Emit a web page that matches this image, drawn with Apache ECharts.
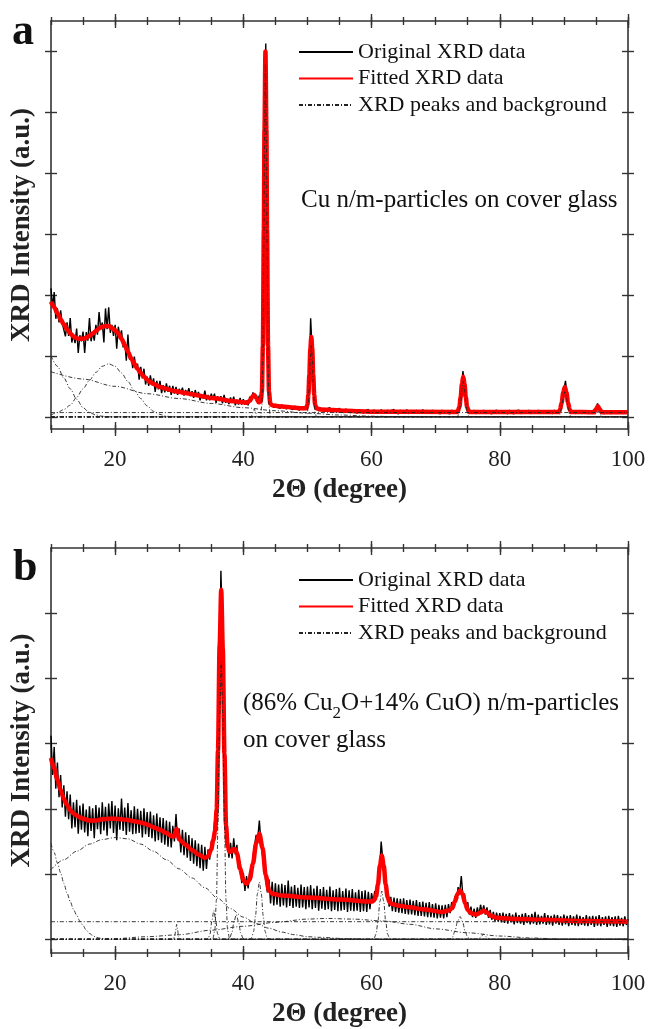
<!DOCTYPE html>
<html>
<head>
<meta charset="utf-8">
<script src="https://cdn.jsdelivr.net/npm/echarts@6/dist/echarts.min.js"></script>
<style>
  html, body { margin: 0; padding: 0; background: #fff; }
  #chart { width: 649px; height: 1029px; }
</style>
</head>
<body>
<div id="chart"></div>
<script>
// ---------- scan grid of the measured patterns (2θ in degrees) ----------
const scanStart = 10;
const scanStep = 0.25;

// ---------- axis ticks ----------
const xMajorTicks = [20, 40, 60, 80, 100];
const yTicksA = [0, 1, 2, 3, 4, 5, 6];
const yTicksB = [0, 1, 2, 3, 4, 5];

// ---------- (a) Cu particles: measured intensity, one row per degree ----------
const rawA = [
  2.11, 1.80, 2.05, 1.61,  1.78, 1.55, 1.75, 1.54,  1.57, 1.32, 1.55, 1.33,  1.62, 1.22, 1.35, 1.21,
  1.45, 1.05, 1.34, 1.24,  1.40, 1.05, 1.39, 1.25,  1.62, 1.24, 1.39, 1.25,  1.51, 1.35, 1.72, 1.44,
  1.55, 1.22, 1.78, 1.44,  1.80, 1.38, 1.51, 1.33,  1.51, 1.12, 1.48, 1.31,  1.42, 1.14, 1.24, 0.92,
  1.35, 0.94, 0.99, 0.80,  0.99, 0.79, 0.87, 0.61,  0.82, 0.63, 0.79, 0.53,  0.66, 0.51, 0.68, 0.52,
  0.63, 0.41, 0.59, 0.45,  0.59, 0.39, 0.52, 0.40,  0.55, 0.41, 0.51, 0.36,  0.51, 0.38, 0.49, 0.36,
  0.46, 0.39, 0.48, 0.35,  0.44, 0.38, 0.47, 0.34,  0.42, 0.31, 0.44, 0.33,  0.41, 0.27, 0.37, 0.30,
  0.43, 0.27, 0.36, 0.27,  0.38, 0.29, 0.38, 0.23,  0.34, 0.26, 0.34, 0.22,  0.36, 0.23, 0.29, 0.21,
  0.32, 0.23, 0.33, 0.19,  0.28, 0.20, 0.31, 0.20,  0.29, 0.20, 0.27, 0.19,  0.33, 0.28, 0.40, 0.32,
  0.36, 0.28, 0.35, 0.29,  0.85, 4.00, 6.13, 2.30,  0.40, 0.22, 0.20, 0.15,  0.21, 0.16, 0.19, 0.14,
  0.20, 0.15, 0.18, 0.13,  0.19, 0.14, 0.17, 0.12,  0.18, 0.13, 0.16, 0.11,  0.17, 0.12, 0.15, 0.13,
  0.22, 0.60, 1.62, 1.05,  0.35, 0.16, 0.14, 0.10,  0.15, 0.11, 0.14, 0.09,  0.13, 0.10, 0.15, 0.09,
  0.13, 0.08, 0.12, 0.10,  0.14, 0.08, 0.11, 0.07,  0.13, 0.09, 0.11, 0.07,  0.12, 0.08, 0.10, 0.06,
  0.12, 0.08, 0.11, 0.06,  0.10, 0.07, 0.12, 0.06,  0.10, 0.07, 0.11, 0.06,  0.10, 0.05, 0.12, 0.07,
  0.09, 0.06, 0.11, 0.05,  0.10, 0.07, 0.12, 0.06,  0.09, 0.05, 0.11, 0.07,  0.10, 0.06, 0.12, 0.05,
  0.09, 0.07, 0.10, 0.05,  0.11, 0.06, 0.09, 0.07,  0.12, 0.05, 0.10, 0.06,  0.09, 0.07, 0.11, 0.05,
  0.10, 0.06, 0.09, 0.05,  0.11, 0.07, 0.10, 0.06,  0.09, 0.05, 0.11, 0.06,  0.10, 0.07, 0.10, 0.19,
  0.43, 0.75, 0.54, 0.27,  0.12, 0.09, 0.10, 0.06,  0.11, 0.05, 0.09, 0.07,  0.10, 0.05, 0.11, 0.06,
  0.09, 0.07, 0.10, 0.05,  0.09, 0.06, 0.11, 0.05,  0.10, 0.06, 0.09, 0.07,  0.10, 0.05, 0.11, 0.06,
  0.09, 0.05, 0.10, 0.07,  0.11, 0.05, 0.09, 0.06,  0.10, 0.06, 0.11, 0.05,  0.09, 0.07, 0.10, 0.05,
  0.11, 0.06, 0.09, 0.06,  0.10, 0.05, 0.10, 0.07,  0.09, 0.05, 0.11, 0.06,  0.09, 0.10, 0.15, 0.29,
  0.45, 0.59, 0.33, 0.17,  0.10, 0.07, 0.10, 0.05,  0.09, 0.06, 0.10, 0.05,  0.09, 0.07, 0.10, 0.05,
  0.09, 0.06, 0.10, 0.07,  0.13, 0.22, 0.16, 0.09,  0.10, 0.05, 0.09, 0.06,  0.10, 0.05, 0.09, 0.06,
  0.10, 0.05, 0.09, 0.07,  0.10, 0.05, 0.09, 0.06,  0.09
];

// (a) fitted profile
const fitA = [
  [10, 1.89], [10.5, 1.80], [11, 1.70], [11.5, 1.60], [12, 1.52], [12.5, 1.44], [13, 1.37], [13.5, 1.32],
  [14, 1.29], [14.5, 1.28], [15, 1.28], [15.5, 1.30], [16, 1.33], [16.5, 1.37], [17, 1.41], [17.5, 1.45],
  [18, 1.48], [18.5, 1.49], [19, 1.49], [19.5, 1.46], [20, 1.42], [20.5, 1.37], [21, 1.28], [21.5, 1.18],
  [22, 1.07], [22.5, 0.96], [23, 0.87], [23.5, 0.79], [24, 0.72], [24.5, 0.66], [25, 0.61], [25.5, 0.57],
  [26, 0.54], [27, 0.49], [28, 0.46], [29, 0.43], [30, 0.41], [31, 0.39], [32, 0.37], [33, 0.35],
  [34, 0.33], [35, 0.31], [36, 0.30], [37, 0.28], [38, 0.26], [39, 0.25], [40, 0.24], [40.5, 0.23],
  [41, 0.26], [41.4, 0.33], [41.7, 0.36], [42, 0.31], [42.4, 0.24], [42.7, 0.25], [42.9, 0.41],
  [43.05, 1.17], [43.2, 3.07], [43.3, 4.72], [43.45, 6.0], [43.6, 4.72], [43.7, 3.07], [43.85, 1.17],
  [44.0, 0.41], [44.2, 0.22], [44.5, 0.19], [45, 0.18], [46, 0.17], [47, 0.16], [48, 0.15], [49, 0.14],
  [49.8, 0.14], [50.0, 0.20], [50.15, 0.36], [50.3, 0.70], [50.45, 1.11], [50.6, 1.31], [50.75, 1.11],
  [50.9, 0.70], [51.05, 0.36], [51.2, 0.20], [51.4, 0.14], [52, 0.12], [54, 0.11], [56, 0.10], [58, 0.09],
  [60, 0.085], [73.4, 0.08], [73.7, 0.16], [73.9, 0.32], [74.1, 0.54], [74.3, 0.66], [74.5, 0.54],
  [74.7, 0.32], [74.9, 0.16], [75.2, 0.08], [89.2, 0.08], [89.4, 0.12], [89.65, 0.23], [89.9, 0.40],
  [90.15, 0.49], [90.4, 0.40], [90.65, 0.23], [90.9, 0.12], [91.1, 0.08], [94.7, 0.075], [95.0, 0.125],
  [95.3, 0.175], [95.6, 0.125], [95.9, 0.075], [100, 0.075]
];

// (a) background terms
const lowAngleA = [[10, 1.0], [11, 0.83], [12, 0.64], [13, 0.46], [14, 0.29], [15, 0.15], [16, 0.07], [17, 0.03], [18, 0.01], [19, 0], [100, 0]];
const glassHumpA = [[10, 0.03], [11, 0.07], [12, 0.12], [13, 0.19], [14, 0.32], [15, 0.46], [16, 0.6], [17, 0.73], [18, 0.83], [19, 0.87], [20, 0.83], [21, 0.72], [22, 0.58], [23, 0.43], [24, 0.3], [25, 0.18], [26, 0.09], [27, 0.04], [28, 0.01], [29, 0], [100, 0]];
const slopeA = [[10, 0.74], [15, 0.62], [20, 0.5], [25, 0.38], [30, 0.3], [35, 0.22], [40, 0.15], [45, 0.1], [50, 0.06], [55, 0.03], [60, 0.01], [65, 0], [100, 0]];
const flatA = [[10, 0.07], [100, 0.07]];

// (a) Bragg peaks
const peakA417 = [[10, 0], [41.2, 0], [41.5, 0.07], [41.7, 0.13], [41.9, 0.07], [42.2, 0], [100, 0]];
const peakA434 = [[10, 0], [42.7, 0], [42.9, 0.19], [43.05, 0.95], [43.2, 2.85], [43.3, 4.5], [43.45, 5.8], [43.6, 4.5], [43.7, 2.85], [43.85, 0.95], [44.0, 0.19], [44.2, 0], [100, 0]];
const peakA506 = [[10, 0], [49.8, 0], [50.0, 0.07], [50.15, 0.23], [50.3, 0.57], [50.45, 0.98], [50.6, 1.17], [50.75, 0.98], [50.9, 0.57], [51.05, 0.23], [51.2, 0.07], [51.4, 0], [100, 0]];
const peakA743 = [[10, 0], [73.4, 0], [73.7, 0.08], [73.9, 0.24], [74.1, 0.46], [74.3, 0.58], [74.5, 0.46], [74.7, 0.24], [74.9, 0.08], [75.2, 0], [100, 0]];
const peakA901 = [[10, 0], [89.2, 0], [89.4, 0.04], [89.65, 0.15], [89.9, 0.32], [90.15, 0.41], [90.4, 0.32], [90.65, 0.15], [90.9, 0.04], [91.1, 0], [100, 0]];
const peakA953 = [[10, 0], [94.7, 0], [95.0, 0.05], [95.3, 0.1], [95.6, 0.05], [95.9, 0], [100, 0]];

// ---------- (b) Cu2O/CuO particles: measured intensity, one row per degree ----------
const rawB = [
  3.12, 2.52, 2.95, 2.31,  2.71, 2.18, 2.52, 2.02,  2.36, 1.88, 2.27, 1.84,  2.22, 1.70, 2.10, 1.72,
  2.14, 1.62, 2.05, 1.68,  2.08, 1.64, 1.99, 1.58,  2.04, 1.66, 2.01, 1.55,  2.06, 1.69, 2.02, 1.61,
  2.10, 1.67, 2.03, 1.59,  2.08, 1.70, 2.12, 1.63,  2.05, 1.52, 2.01, 1.68,  2.16, 1.66, 2.02, 1.60,
  2.09, 1.65, 1.98, 1.61,  2.04, 1.62, 2.00, 1.63,  1.97, 1.56, 2.01, 1.61,  1.95, 1.57, 1.96, 1.55,
  1.90, 1.50, 1.93, 1.52,  1.87, 1.48, 1.86, 1.45,  1.82, 1.42, 1.80, 1.41,  1.74, 1.50, 1.92, 1.52,
  1.70, 1.33, 1.68, 1.29,  1.64, 1.25, 1.60, 1.20,  1.55, 1.16, 1.52, 1.12,  1.47, 1.09, 1.45, 1.05,
  1.42, 1.08, 1.38, 1.22,  1.50, 1.45, 1.80, 1.85,  2.70, 3.80, 5.65, 4.75,  3.15, 1.85, 1.56, 1.25,
  1.48, 1.24, 1.55, 1.30,  1.45, 1.08, 1.20, 0.86,  1.02, 0.74, 0.97, 0.78,  1.05, 0.95, 1.28, 1.25,
  1.60, 1.55, 1.82, 1.48,  1.50, 1.08, 1.06, 0.72,  0.92, 0.55, 0.88, 0.52,  0.86, 0.53, 0.84, 0.50,
  0.85, 0.52, 0.83, 0.49,  0.90, 0.51, 0.81, 0.48,  0.83, 0.50, 0.79, 0.48,  0.84, 0.49, 0.80, 0.46,
  0.81, 0.49, 0.83, 0.46,  0.78, 0.48, 0.82, 0.44,  0.77, 0.47, 0.80, 0.45,  0.76, 0.46, 0.81, 0.43,
  0.75, 0.45, 0.77, 0.43,  0.79, 0.44, 0.74, 0.45,  0.78, 0.42, 0.75, 0.44,  0.77, 0.43, 0.72, 0.44,
  0.76, 0.42, 0.74, 0.43,  0.75, 0.42, 0.73, 0.46,  0.71, 0.57, 0.74, 0.70,  0.95, 1.05, 1.50, 1.22,
  1.12, 0.76, 0.72, 0.50,  0.65, 0.43, 0.64, 0.42,  0.63, 0.41, 0.62, 0.40,  0.63, 0.39, 0.60, 0.38,
  0.61, 0.38, 0.59, 0.37,  0.60, 0.36, 0.57, 0.36,  0.58, 0.35, 0.56, 0.34,  0.57, 0.34, 0.54, 0.33,
  0.55, 0.32, 0.53, 0.33,  0.52, 0.32, 0.53, 0.34,  0.54, 0.40, 0.57, 0.46,  0.66, 0.60, 0.80, 0.72,
  0.97, 0.66, 0.70, 0.48,  0.57, 0.38, 0.50, 0.34,  0.47, 0.33, 0.49, 0.37,  0.53, 0.40, 0.52, 0.38,
  0.49, 0.33, 0.45, 0.30,  0.42, 0.28, 0.41, 0.27,  0.40, 0.26, 0.41, 0.25,  0.39, 0.24, 0.40, 0.26,
  0.38, 0.23, 0.41, 0.25,  0.37, 0.24, 0.39, 0.22,  0.40, 0.25, 0.37, 0.23,  0.39, 0.24, 0.42, 0.22,
  0.38, 0.23, 0.36, 0.24,  0.40, 0.22, 0.37, 0.23,  0.36, 0.21, 0.38, 0.24,  0.37, 0.22, 0.35, 0.21,
  0.38, 0.23, 0.36, 0.20,  0.37, 0.22, 0.35, 0.21,  0.38, 0.20, 0.36, 0.22,  0.34, 0.21, 0.37, 0.20,
  0.35, 0.22, 0.36, 0.19,  0.35, 0.21, 0.37, 0.20,  0.34, 0.22, 0.35, 0.19,  0.36, 0.21, 0.34, 0.20,
  0.35, 0.19, 0.36, 0.21,  0.33, 0.20, 0.35, 0.22,  0.31
];

// (b) fitted profile
const fitB = [
  [10, 2.78], [10.5, 2.62], [11, 2.45], [11.5, 2.29], [12, 2.15], [12.5, 2.06], [13, 1.98], [13.5, 1.93],
  [14, 1.90], [14.5, 1.87], [15, 1.85], [16, 1.82], [17, 1.82], [18, 1.84], [19, 1.85], [20, 1.85],
  [21, 1.84], [22, 1.83], [23, 1.81], [24, 1.79], [25, 1.76], [26, 1.72], [27, 1.68], [28, 1.63],
  [28.8, 1.58], [29.2, 1.58], [29.45, 1.66], [29.6, 1.69], [29.75, 1.63], [30.0, 1.53], [31, 1.45],
  [32, 1.37], [33, 1.30], [34, 1.25], [34.5, 1.27], [35.0, 1.38], [35.3, 1.52], [35.6, 1.66],
  [35.85, 2.0], [36.05, 2.9], [36.3, 4.5], [36.55, 5.36], [36.8, 4.45], [37.05, 2.85], [37.3, 1.75],
  [37.55, 1.42], [37.85, 1.34], [38.2, 1.35], [38.5, 1.38], [38.75, 1.38], [39.0, 1.32], [39.5, 1.08],
  [40.0, 0.91], [40.5, 0.85], [41.0, 0.92], [41.5, 1.16], [42.0, 1.47], [42.5, 1.62], [43.0, 1.40],
  [43.5, 0.98], [44.0, 0.75], [44.5, 0.70], [46, 0.67], [50, 0.64], [55, 0.61], [59.5, 0.58],
  [60.1, 0.58], [60.4, 0.60], [60.7, 0.66], [61.0, 0.84], [61.3, 1.13], [61.6, 1.28], [61.9, 1.13],
  [62.2, 0.84], [62.5, 0.65], [62.8, 0.57], [63.2, 0.54], [64, 0.52], [66, 0.49], [68, 0.46],
  [71, 0.42], [72, 0.44], [72.6, 0.48], [73.0, 0.58], [73.4, 0.69], [73.8, 0.75], [74.2, 0.69],
  [74.6, 0.55], [75.0, 0.45], [75.5, 0.40], [76.3, 0.38], [77.0, 0.41], [77.5, 0.44], [78.0, 0.41],
  [78.6, 0.36], [79.5, 0.33], [83, 0.31], [87, 0.30], [93, 0.28], [100, 0.27]
];

// (b) background terms
const lowAngleB = [[10, 1.47], [10.5, 1.33], [11, 1.17], [11.5, 1.02], [12, 0.86], [12.5, 0.71], [13, 0.58], [13.5, 0.46], [14, 0.37], [14.5, 0.28], [15, 0.21], [15.5, 0.14], [16, 0.09], [16.5, 0.06], [17, 0.03], [18, 0.01], [19, 0], [100, 0]];
const glassHumpB = [[10, 1.07], [12, 1.22], [14, 1.35], [16, 1.46], [18, 1.53], [20, 1.56], [22, 1.54], [24, 1.46], [26, 1.35], [28, 1.22], [30, 1.08], [32, 0.94], [34, 0.79], [36, 0.63], [38, 0.47], [40, 0.34], [42, 0.24], [44, 0.17], [46, 0.11], [48, 0.07], [50, 0.04], [52, 0.03], [56, 0.01], [60, 0], [100, 0]];
const flatB = [[10, 0.27], [100, 0.27]];
const broadB = [[10, 0], [17, 0], [20, 0.01], [25, 0.04], [30, 0.07], [35, 0.14], [40, 0.2], [45, 0.26], [50, 0.31], [53, 0.32], [57, 0.31], [62, 0.28], [66, 0.23], [70, 0.16], [75, 0.1], [80, 0.05], [85, 0.02], [90, 0], [100, 0]];

// (b) Bragg peaks
const peakB296 = [[10, 0], [29.0, 0], [29.3, 0.04], [29.45, 0.14], [29.6, 0.23], [29.75, 0.14], [29.9, 0.04], [30.2, 0], [100, 0]];
const peakB354 = [[10, 0], [34.3, 0], [34.5, 0.01], [34.8, 0.08], [35.1, 0.29], [35.4, 0.44], [35.7, 0.29], [36.0, 0.08], [36.3, 0.01], [36.5, 0], [100, 0]];
const peakB366 = [[10, 0], [34.8, 0], [35.25, 0.01], [35.55, 0.14], [35.8, 0.6], [36.05, 1.78], [36.3, 3.42], [36.55, 4.25], [36.8, 3.42], [37.05, 1.78], [37.3, 0.6], [37.55, 0.14], [37.85, 0.01], [38.3, 0], [100, 0]];
const peakB389 = [[10, 0], [37.5, 0], [37.85, 0.017], [38.2, 0.095], [38.55, 0.27], [38.9, 0.38], [39.25, 0.27], [39.6, 0.095], [39.95, 0.017], [40.3, 0], [100, 0]];
const peakB425 = [[10, 0], [41.0, 0], [41.3, 0.025], [41.6, 0.12], [41.9, 0.36], [42.2, 0.7], [42.5, 0.88], [42.8, 0.7], [43.1, 0.36], [43.4, 0.12], [43.7, 0.025], [44.0, 0], [100, 0]];
const peakB616 = [[10, 0], [60.1, 0], [60.4, 0.015], [60.7, 0.08], [61.0, 0.28], [61.3, 0.58], [61.6, 0.74], [61.9, 0.58], [62.2, 0.28], [62.5, 0.08], [62.8, 0.015], [63.1, 0], [100, 0]];
const peakB738 = [[10, 0], [71.8, 0], [72.2, 0.005], [72.6, 0.03], [73.0, 0.12], [73.4, 0.27], [73.8, 0.35], [74.2, 0.27], [74.6, 0.12], [75.0, 0.03], [75.4, 0.005], [75.8, 0], [100, 0]];
const peakB775 = [[10, 0], [76.6, 0], [77.0, 0.03], [77.5, 0.08], [78.0, 0.03], [78.4, 0], [100, 0]];

// ---------- styling ----------
const SERIF = '"Liberation Serif", "Times New Roman", serif';
const AXIS_COLOR = '#333';
const LEGEND_NAMES = ['Original XRD data', 'Fitted XRD data', 'XRD peaks and background'];

function scanToXY(values) {
  return values.map((v, i) => [scanStart + i * scanStep, v]);
}

// Four stacked axes per side give ticks that cross the frame line.
function xAxesFor(g) {
  const tickStyle = { color: AXIS_COLOR, width: 1.4 };
  const base = {
    gridIndex: g, type: 'value', min: 10, max: 100,
    splitLine: { show: false }, axisLabel: { show: false },
    axisLine: { show: false, onZero: false }
  };
  const axes = [];
  ['bottom', 'top'].forEach(pos => {
    const main = Object.assign({}, base, {
      position: pos,
      axisLine: { show: true, onZero: false, lineStyle: { color: AXIS_COLOR, width: 1.6 } },
      axisTick: { show: true, customValues: xMajorTicks, length: 7, lineStyle: tickStyle }
    });
    if (pos === 'bottom') {
      main.axisLabel = {
        show: true, customValues: xMajorTicks, margin: 19,
        fontFamily: SERIF, fontSize: 23, color: '#222'
      };
      main.name = '2\u0398 (degree)';
      main.nameLocation = 'middle';
      main.nameGap = 48;
      main.nameTextStyle = { fontFamily: SERIF, fontSize: 27, fontWeight: 'bold', color: '#222' };
    }
    axes.push(main);
    axes.push(Object.assign({}, base, { position: pos, axisTick: { show: true, inside: true, customValues: xMajorTicks, length: 7, lineStyle: tickStyle } }));
    axes.push(Object.assign({}, base, { position: pos, interval: 5, axisTick: { show: true, length: 4, lineStyle: tickStyle } }));
    axes.push(Object.assign({}, base, { position: pos, interval: 5, axisTick: { show: true, inside: true, length: 4, lineStyle: tickStyle } }));
  });
  return axes;
}

function yAxesFor(g, min, max, ticks) {
  const tickStyle = { color: AXIS_COLOR, width: 1.4 };
  const base = {
    gridIndex: g, type: 'value', min: min, max: max,
    splitLine: { show: false }, axisLabel: { show: false },
    axisLine: { show: false, onZero: false }
  };
  const line = { show: true, onZero: false, lineStyle: { color: AXIS_COLOR, width: 1.6 } };
  return [
    Object.assign({}, base, {
      position: 'left', axisLine: line,
      axisTick: { show: true, customValues: ticks, length: 6, lineStyle: tickStyle },
      name: 'XRD Intensity (a.u.)', nameLocation: 'middle', nameGap: 15, nameRotate: 90,
      nameTextStyle: { fontFamily: SERIF, fontSize: 27, fontWeight: 'bold', color: '#222' }
    }),
    Object.assign({}, base, { position: 'left', axisTick: { show: true, inside: true, customValues: ticks, length: 6, lineStyle: tickStyle } }),
    Object.assign({}, base, { position: 'right', axisLine: line, axisTick: { show: true, customValues: ticks, length: 6, lineStyle: tickStyle } }),
    Object.assign({}, base, { position: 'right', axisTick: { show: true, inside: true, customValues: ticks, length: 6, lineStyle: tickStyle } })
  ];
}

function panelSeries(g, raw, fit, parts) {
  const xi = g * 8, yi = g * 4;
  const series = [
    {
      name: LEGEND_NAMES[0], type: 'line', xAxisIndex: xi, yAxisIndex: yi,
      data: scanToXY(raw), symbol: 'none', z: 2,
      itemStyle: { color: '#000' }, lineStyle: { color: '#000', width: 1.4 }
    },
    {
      name: LEGEND_NAMES[1], type: 'line', xAxisIndex: xi, yAxisIndex: yi,
      data: fit, symbol: 'none', smooth: 0.3, smoothMonotone: 'x', z: 3,
      itemStyle: { color: '#ff0000' }, lineStyle: { color: '#ff0000', width: 4.5 }
    }
  ];
  parts.forEach(p => series.push({
    name: LEGEND_NAMES[2], type: 'line', xAxisIndex: xi, yAxisIndex: yi,
    data: p, symbol: 'none', smooth: 0.3, smoothMonotone: 'x', z: 4,
    itemStyle: { color: '#222' }, lineStyle: { color: '#222', width: 0.9, type: [4, 2, 1, 2] }
  }));
  return series;
}

function legendAt(top) {
  return {
    top: top, left: 293, orient: 'vertical', selectedMode: false,
    itemWidth: 54, itemHeight: 10, itemGap: 4.5,
    itemStyle: { opacity: 0 },
    data: LEGEND_NAMES,
    textStyle: { fontFamily: SERIF, fontSize: 22, color: '#111', lineHeight: 22 }
  };
}

function label(text, x, y, size, weight) {
  return {
    type: 'text', x: x, y: y,
    style: { text: text, font: (weight || 'normal') + ' ' + size + 'px ' + SERIF, fill: '#111', verticalAlign: 'middle' }
  };
}

const chart = echarts.init(document.getElementById('chart'), null, { renderer: 'canvas' });

chart.setOption({
  animation: false,
  backgroundColor: '#fff',
  grid: [
    { left: 51, top: 21, width: 577, height: 408 },
    { left: 51, top: 548, width: 577, height: 408 }
  ],
  xAxis: xAxesFor(0).concat(xAxesFor(1)),
  yAxis: yAxesFor(0, -0.2, 6.5, yTicksA).concat(yAxesFor(1, -0.21, 6, yTicksB)),
  legend: [legendAt(36), legendAt(564)],
  graphic: [
    label('a', 12, 33, 44, 'bold'),
    label('b', 13, 569, 44, 'bold'),
    label('Cu n/m-particles on cover glass', 301, 200, 25),
    label('(86% Cu', 243, 703, 25),
    label('2', 332.6, 714, 17),
    label('O+14% CuO) n/m-particles', 341.1, 703, 25),
    label('on cover glass', 243, 740, 25)
  ],
  series: []
    .concat(panelSeries(0, rawA, fitA, [lowAngleA, glassHumpA, slopeA, flatA, peakA417, peakA434, peakA506, peakA743, peakA901, peakA953]))
    .concat(panelSeries(1, rawB, fitB, [lowAngleB, glassHumpB, flatB, broadB, peakB296, peakB354, peakB366, peakB389, peakB425, peakB616, peakB738, peakB775]))
});
</script>
</body>
</html>
